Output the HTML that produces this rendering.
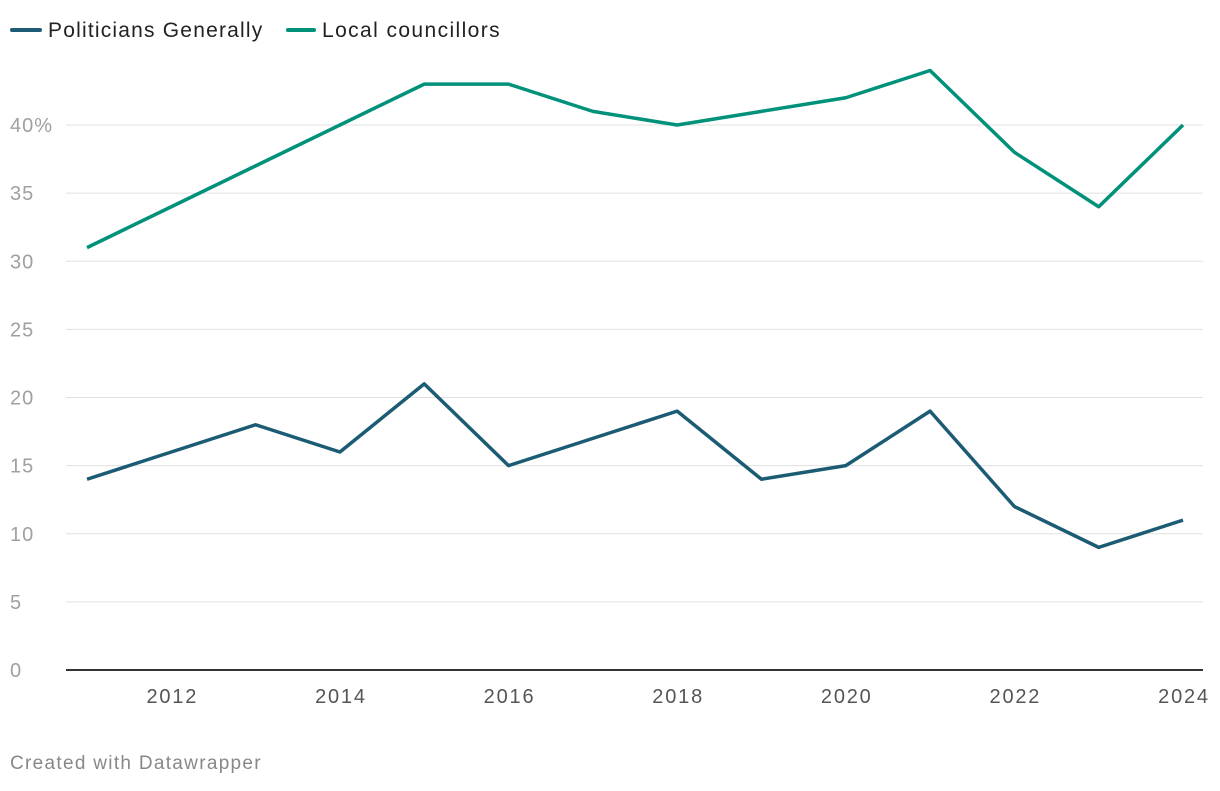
<!DOCTYPE html>
<html><head><meta charset="utf-8"><style>
body{margin:0;background:#fff;font-family:"Liberation Sans",sans-serif;}
svg text{font-family:"Liberation Sans",sans-serif;}
</style></head><body>
<svg id="chart" width="1220" height="786">
<g>
<line x1="12" y1="30" x2="40" y2="30" stroke="#1b5b73" stroke-width="4" stroke-linecap="round"/>
<text x="48" y="37" font-size="21" letter-spacing="1.2" fill="#222">Politicians Generally</text>
<line x1="288" y1="30" x2="314" y2="30" stroke="#00917a" stroke-width="4" stroke-linecap="round"/>
<text x="322" y="37" font-size="21" letter-spacing="1.4" fill="#222">Local councillors</text>
</g>
<g id="grid"></g>
<g id="xaxis"></g>
<g id="series"></g>
<text x="10" y="769" font-size="19" letter-spacing="1.3" fill="#888">Created with Datawrapper</text>
</svg>
<script>
const years=[2011,2012,2013,2014,2015,2016,2017,2018,2019,2020,2021,2022,2023,2024];
const politicians=[14,16,18,16,21,15,17,19,14,15,19,12,9,11];
const councillors=[31,34,37,40,43,43,41,40,41,42,44,38,34,40];
const yTicks=[0,5,10,15,20,25,30,35,40];
const xTicks=[2012,2014,2016,2018,2020,2022,2024];
const ns="http://www.w3.org/2000/svg";
const x=v=>87+(v-2011)*(1183-87)/13;
const y=v=>670-v*(545/40);
function mk(t,a,p){const e=document.createElementNS(ns,t);for(const k in a)e.setAttribute(k,a[k]);p.appendChild(e);return e;}
const g=document.getElementById('grid');
yTicks.forEach(t=>{
 const l=mk('line',{x1:66,x2:1203,y1:y(t),y2:y(t),stroke:t===0?'#333':'#e0e0e0','stroke-width':t===0?2:1},g);
 
 
 const tx=mk('text',{x:10,y:y(t)+7,'font-size':20,'letter-spacing':1,fill:'#a0a0a0'},g);
 tx.textContent=t===40?'40%':String(t);
 
 
});
const xa=document.getElementById('xaxis');
xTicks.forEach(t=>{
 const tx=mk('text',{x:x(t)+1,y:703,'font-size':20,'letter-spacing':1.8,fill:'#555','text-anchor':'middle'},xa);
 tx.textContent=String(t);
 
 
});
const s=document.getElementById('series');
[[councillors,'#00917a','line-local-councillors'],[politicians,'#1b5b73','line-politicians-generally']].forEach(([d,c,n])=>{
 const p=mk('path',{d:d.map((v,i)=>(i?'L':'M')+x(years[i])+','+y(v)).join(''),fill:'none',stroke:c,'stroke-width':3.5,'stroke-linejoin':'round'},s);
 
 
});
</script>
</body></html>
